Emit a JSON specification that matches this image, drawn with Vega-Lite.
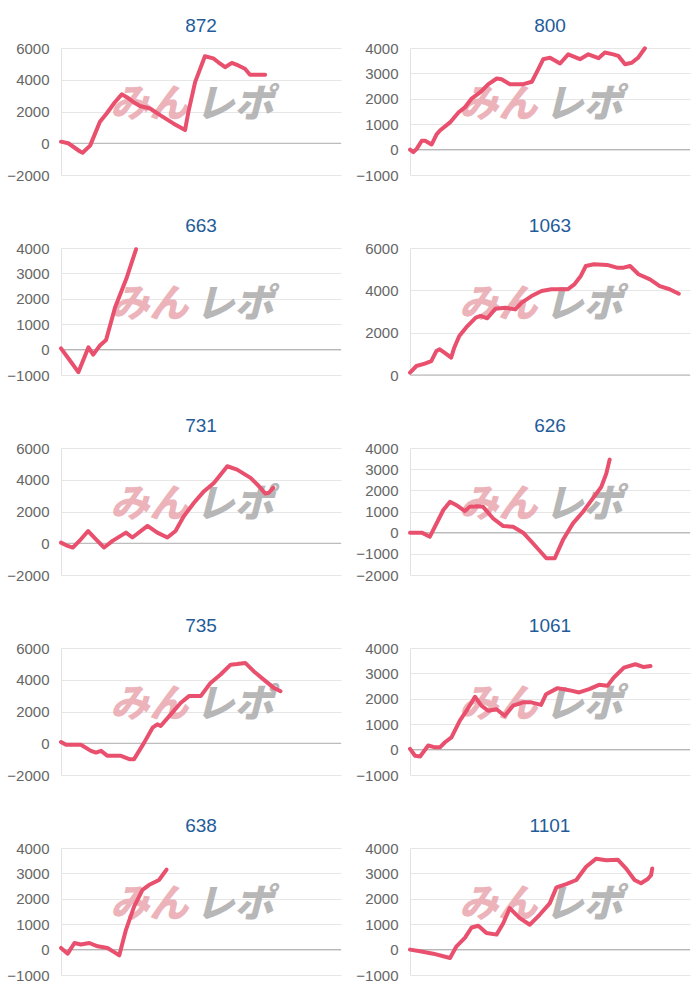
{
  "$schema": "https://vega.github.io/schema/vega-lite/v6.json",
  "padding": {"left": 6, "top": 17, "right": 0, "bottom": 0},
  "background": "white",
  "config": {
    "view": {"stroke": null},
    "font": "Liberation Sans",
    "axisY": {"labelFontSize": 15, "labelColor": "#666666", "labelFont": "Liberation Sans", "gridColor": "#e6e6e6", "domainColor": "#e2e2e2", "ticks": false, "labelPadding": 12, "title": null, "labelOverlap": false, "labelBound": false, "format": "d"},
    "title": {"fontSize": 19, "color": "#1f5c99", "font": "Liberation Sans", "fontWeight": "normal", "frame": "group", "offset": 5}
  },
  "datasets": {
    "series": [
      {"panel": "872", "t": 0, "v": 100}, {"panel": "872", "t": 2.6, "v": 0}, {"panel": "872", "t": 6.8, "v": -520}, {"panel": "872", "t": 7.7, "v": -600}, {"panel": "872", "t": 10.4, "v": -150}, {"panel": "872", "t": 13.9, "v": 1350}, {"panel": "872", "t": 16.3, "v": 1875}, {"panel": "872", "t": 19.3, "v": 2600}, {"panel": "872", "t": 21.7, "v": 3080}, {"panel": "872", "t": 23.5, "v": 2900}, {"panel": "872", "t": 25.8, "v": 2600}, {"panel": "872", "t": 28.2, "v": 2350}, {"panel": "872", "t": 31.8, "v": 2190}, {"panel": "872", "t": 35.4, "v": 1770}, {"panel": "872", "t": 40.1, "v": 1250}, {"panel": "872", "t": 44.3, "v": 830}, {"panel": "872", "t": 45.5, "v": 1980}, {"panel": "872", "t": 47.9, "v": 3850}, {"panel": "872", "t": 51.4, "v": 5480}, {"panel": "872", "t": 54.4, "v": 5350}, {"panel": "872", "t": 56.2, "v": 5100}, {"panel": "872", "t": 58.6, "v": 4790}, {"panel": "872", "t": 61, "v": 5060}, {"panel": "872", "t": 63.3, "v": 4900}, {"panel": "872", "t": 65.7, "v": 4690}, {"panel": "872", "t": 67.5, "v": 4310}, {"panel": "872", "t": 72.9, "v": 4310},
      {"panel": "800", "t": 0, "v": 0}, {"panel": "800", "t": 1.2, "v": -100}, {"panel": "800", "t": 2.4, "v": 30}, {"panel": "800", "t": 4.2, "v": 350}, {"panel": "800", "t": 5.4, "v": 350}, {"panel": "800", "t": 7.7, "v": 200}, {"panel": "800", "t": 9.5, "v": 600}, {"panel": "800", "t": 10.7, "v": 750}, {"panel": "800", "t": 14.3, "v": 1070}, {"panel": "800", "t": 17.3, "v": 1460}, {"panel": "800", "t": 19.6, "v": 1660}, {"panel": "800", "t": 22, "v": 2010}, {"panel": "800", "t": 25, "v": 2250}, {"panel": "800", "t": 28, "v": 2575}, {"panel": "800", "t": 31, "v": 2800}, {"panel": "800", "t": 32.7, "v": 2770}, {"panel": "800", "t": 35.7, "v": 2575}, {"panel": "800", "t": 40.5, "v": 2575}, {"panel": "800", "t": 43.5, "v": 2670}, {"panel": "800", "t": 45.2, "v": 3030}, {"panel": "800", "t": 47.6, "v": 3560}, {"panel": "800", "t": 50, "v": 3620}, {"panel": "800", "t": 53.6, "v": 3390}, {"panel": "800", "t": 56.5, "v": 3750}, {"panel": "800", "t": 60.7, "v": 3560}, {"panel": "800", "t": 63.7, "v": 3750}, {"panel": "800", "t": 67.3, "v": 3600}, {"panel": "800", "t": 69.6, "v": 3820}, {"panel": "800", "t": 72.6, "v": 3750}, {"panel": "800", "t": 74.4, "v": 3690}, {"panel": "800", "t": 76.8, "v": 3360}, {"panel": "800", "t": 79.2, "v": 3420}, {"panel": "800", "t": 81.5, "v": 3620}, {"panel": "800", "t": 83.9, "v": 3990},
      {"panel": "663", "t": 0, "v": 50}, {"panel": "663", "t": 3.2, "v": -430}, {"panel": "663", "t": 6.2, "v": -890}, {"panel": "663", "t": 9.8, "v": 90}, {"panel": "663", "t": 11.5, "v": -200}, {"panel": "663", "t": 13.9, "v": 160}, {"panel": "663", "t": 16.1, "v": 380}, {"panel": "663", "t": 19.3, "v": 1660}, {"panel": "663", "t": 23.5, "v": 2840}, {"panel": "663", "t": 26.8, "v": 3950},
      {"panel": "1063", "t": 0, "v": 110}, {"panel": "1063", "t": 2.3, "v": 425}, {"panel": "1063", "t": 5.3, "v": 535}, {"panel": "1063", "t": 7.6, "v": 660}, {"panel": "1063", "t": 9.4, "v": 1130}, {"panel": "1063", "t": 10.6, "v": 1210}, {"panel": "1063", "t": 12.3, "v": 1055}, {"panel": "1063", "t": 14.7, "v": 820}, {"panel": "1063", "t": 15.8, "v": 1290}, {"panel": "1063", "t": 17.6, "v": 1840}, {"panel": "1063", "t": 20.5, "v": 2310}, {"panel": "1063", "t": 23.5, "v": 2710}, {"panel": "1063", "t": 25.2, "v": 2790}, {"panel": "1063", "t": 27.6, "v": 2680}, {"panel": "1063", "t": 30.5, "v": 3130}, {"panel": "1063", "t": 34, "v": 3180}, {"panel": "1063", "t": 37.6, "v": 3100}, {"panel": "1063", "t": 39.9, "v": 3420}, {"panel": "1063", "t": 43.4, "v": 3730}, {"panel": "1063", "t": 47, "v": 3970}, {"panel": "1063", "t": 50.5, "v": 4050}, {"panel": "1063", "t": 56.3, "v": 4050}, {"panel": "1063", "t": 58.7, "v": 4280}, {"panel": "1063", "t": 61, "v": 4680}, {"panel": "1063", "t": 62.8, "v": 5150}, {"panel": "1063", "t": 65.7, "v": 5230}, {"panel": "1063", "t": 70.4, "v": 5200}, {"panel": "1063", "t": 73.9, "v": 5070}, {"panel": "1063", "t": 76.3, "v": 5070}, {"panel": "1063", "t": 78.6, "v": 5150}, {"panel": "1063", "t": 81.6, "v": 4760}, {"panel": "1063", "t": 85.7, "v": 4520}, {"panel": "1063", "t": 89.2, "v": 4200}, {"panel": "1063", "t": 92.7, "v": 4050}, {"panel": "1063", "t": 96, "v": 3840},
      {"panel": "731", "t": 0, "v": 40}, {"panel": "731", "t": 2.4, "v": -170}, {"panel": "731", "t": 4.2, "v": -270}, {"panel": "731", "t": 7.1, "v": 250}, {"panel": "731", "t": 9.7, "v": 770}, {"panel": "731", "t": 12.5, "v": 250}, {"panel": "731", "t": 15.4, "v": -270}, {"panel": "731", "t": 18.4, "v": 150}, {"panel": "731", "t": 23.2, "v": 670}, {"panel": "731", "t": 25.5, "v": 360}, {"panel": "731", "t": 30.9, "v": 1090}, {"panel": "731", "t": 34.4, "v": 670}, {"panel": "731", "t": 38, "v": 360}, {"panel": "731", "t": 40.9, "v": 770}, {"panel": "731", "t": 43.9, "v": 1710}, {"panel": "731", "t": 47.5, "v": 2550}, {"panel": "731", "t": 51.1, "v": 3280}, {"panel": "731", "t": 54.6, "v": 3800}, {"panel": "731", "t": 59.4, "v": 4850}, {"panel": "731", "t": 62.9, "v": 4640}, {"panel": "731", "t": 67.7, "v": 4120}, {"panel": "731", "t": 70.7, "v": 3590}, {"panel": "731", "t": 73, "v": 3130}, {"panel": "731", "t": 74.2, "v": 3180}, {"panel": "731", "t": 75.8, "v": 3490},
      {"panel": "626", "t": 0, "v": 0}, {"panel": "626", "t": 4.2, "v": 0}, {"panel": "626", "t": 7.1, "v": -190}, {"panel": "626", "t": 11.9, "v": 1070}, {"panel": "626", "t": 14.3, "v": 1460}, {"panel": "626", "t": 16.6, "v": 1300}, {"panel": "626", "t": 19.6, "v": 1020}, {"panel": "626", "t": 21.4, "v": 1220}, {"panel": "626", "t": 24.2, "v": 1250}, {"panel": "626", "t": 26.1, "v": 1220}, {"panel": "626", "t": 29.7, "v": 670}, {"panel": "626", "t": 33.3, "v": 310}, {"panel": "626", "t": 36.8, "v": 280}, {"panel": "626", "t": 40.4, "v": 0}, {"panel": "626", "t": 43.9, "v": -500}, {"panel": "626", "t": 48.7, "v": -1210}, {"panel": "626", "t": 51.7, "v": -1210}, {"panel": "626", "t": 54.6, "v": -350}, {"panel": "626", "t": 58.2, "v": 440}, {"panel": "626", "t": 61.8, "v": 990}, {"panel": "626", "t": 65.3, "v": 1620}, {"panel": "626", "t": 68.3, "v": 2160}, {"panel": "626", "t": 70.1, "v": 2790}, {"panel": "626", "t": 71.3, "v": 3450},
      {"panel": "735", "t": 0, "v": 80}, {"panel": "735", "t": 1.8, "v": -100}, {"panel": "735", "t": 7.1, "v": -100}, {"panel": "735", "t": 10.7, "v": -480}, {"panel": "735", "t": 12.5, "v": -590}, {"panel": "735", "t": 14.3, "v": -480}, {"panel": "735", "t": 16.6, "v": -790}, {"panel": "735", "t": 21.4, "v": -790}, {"panel": "735", "t": 24.4, "v": -1000}, {"panel": "735", "t": 26.1, "v": -1000}, {"panel": "735", "t": 29.7, "v": 40}, {"panel": "735", "t": 32.7, "v": 980}, {"panel": "735", "t": 34.4, "v": 1190}, {"panel": "735", "t": 35.6, "v": 1090}, {"panel": "735", "t": 39.2, "v": 1820}, {"panel": "735", "t": 42.8, "v": 2550}, {"panel": "735", "t": 45.7, "v": 2970}, {"panel": "735", "t": 49.9, "v": 2970}, {"panel": "735", "t": 53.4, "v": 3800}, {"panel": "735", "t": 57, "v": 4330}, {"panel": "735", "t": 60.6, "v": 4950}, {"panel": "735", "t": 62.9, "v": 4990}, {"panel": "735", "t": 65.8, "v": 5060}, {"panel": "735", "t": 68.8, "v": 4540}, {"panel": "735", "t": 72.4, "v": 4010}, {"panel": "735", "t": 76, "v": 3490}, {"panel": "735", "t": 78.4, "v": 3280},
      {"panel": "1061", "t": 0, "v": 30}, {"panel": "1061", "t": 1.8, "v": -240}, {"panel": "1061", "t": 3.6, "v": -270}, {"panel": "1061", "t": 6.5, "v": 160}, {"panel": "1061", "t": 8.9, "v": 90}, {"panel": "1061", "t": 10.7, "v": 90}, {"panel": "1061", "t": 12.5, "v": 290}, {"panel": "1061", "t": 14.8, "v": 480}, {"panel": "1061", "t": 17.8, "v": 1140}, {"panel": "1061", "t": 20.2, "v": 1530}, {"panel": "1061", "t": 23.2, "v": 2080}, {"panel": "1061", "t": 25.5, "v": 1730}, {"panel": "1061", "t": 27.9, "v": 1530}, {"panel": "1061", "t": 30.9, "v": 1590}, {"panel": "1061", "t": 33.8, "v": 1330}, {"panel": "1061", "t": 36.8, "v": 1730}, {"panel": "1061", "t": 40.4, "v": 1860}, {"panel": "1061", "t": 43.3, "v": 1860}, {"panel": "1061", "t": 46.8, "v": 1760}, {"panel": "1061", "t": 48.6, "v": 2180}, {"panel": "1061", "t": 52.7, "v": 2420}, {"panel": "1061", "t": 56.8, "v": 2340}, {"panel": "1061", "t": 60.4, "v": 2250}, {"panel": "1061", "t": 64, "v": 2380}, {"panel": "1061", "t": 67.5, "v": 2550}, {"panel": "1061", "t": 70.5, "v": 2510}, {"panel": "1061", "t": 72.8, "v": 2840}, {"panel": "1061", "t": 76.4, "v": 3230}, {"panel": "1061", "t": 80.5, "v": 3360}, {"panel": "1061", "t": 83.5, "v": 3250}, {"panel": "1061", "t": 85.9, "v": 3290},
      {"panel": "638", "t": 0, "v": 65}, {"panel": "638", "t": 2.4, "v": -160}, {"panel": "638", "t": 4.8, "v": 260}, {"panel": "638", "t": 7.1, "v": 200}, {"panel": "638", "t": 10.1, "v": 260}, {"panel": "638", "t": 13.1, "v": 130}, {"panel": "638", "t": 16.6, "v": 65}, {"panel": "638", "t": 19, "v": -100}, {"panel": "638", "t": 20.8, "v": -230}, {"panel": "638", "t": 23.2, "v": 780}, {"panel": "638", "t": 26.1, "v": 1690}, {"panel": "638", "t": 29.1, "v": 2350}, {"panel": "638", "t": 31.4, "v": 2540}, {"panel": "638", "t": 35, "v": 2740}, {"panel": "638", "t": 37.7, "v": 3150},
      {"panel": "1101", "t": 0, "v": 0}, {"panel": "1101", "t": 3.6, "v": -65}, {"panel": "1101", "t": 8.3, "v": -160}, {"panel": "1101", "t": 11.9, "v": -260}, {"panel": "1101", "t": 14.3, "v": -330}, {"panel": "1101", "t": 16.6, "v": 130}, {"panel": "1101", "t": 19.6, "v": 460}, {"panel": "1101", "t": 22, "v": 870}, {"panel": "1101", "t": 24.4, "v": 940}, {"panel": "1101", "t": 27.3, "v": 650}, {"panel": "1101", "t": 30.9, "v": 590}, {"panel": "1101", "t": 33.3, "v": 1040}, {"panel": "1101", "t": 35.6, "v": 1630}, {"panel": "1101", "t": 39.2, "v": 1240}, {"panel": "1101", "t": 42.8, "v": 980}, {"panel": "1101", "t": 46.3, "v": 1370}, {"panel": "1101", "t": 49.9, "v": 1820}, {"panel": "1101", "t": 52.3, "v": 2450}, {"panel": "1101", "t": 55.8, "v": 2580}, {"panel": "1101", "t": 59.4, "v": 2740}, {"panel": "1101", "t": 62.9, "v": 3260}, {"panel": "1101", "t": 66.5, "v": 3580}, {"panel": "1101", "t": 70.1, "v": 3520}, {"panel": "1101", "t": 74.2, "v": 3540}, {"panel": "1101", "t": 77.2, "v": 3190}, {"panel": "1101", "t": 80.2, "v": 2740}, {"panel": "1101", "t": 82.5, "v": 2610}, {"panel": "1101", "t": 84.9, "v": 2780}, {"panel": "1101", "t": 86.1, "v": 2930}, {"panel": "1101", "t": 86.5, "v": 3190}
    ],
    "wm": [
      {"panel": "872", "t": 31.5, "v": 2400, "text": "みん", "part": "a"}, {"panel": "872", "t": 62, "v": 2400, "text": "レポ", "part": "b"},
      {"panel": "800", "t": 31.5, "v": 1750, "text": "みん", "part": "a"}, {"panel": "800", "t": 62, "v": 1750, "text": "レポ", "part": "b"},
      {"panel": "663", "t": 31.5, "v": 1750, "text": "みん", "part": "a"}, {"panel": "663", "t": 62, "v": 1750, "text": "レポ", "part": "b"},
      {"panel": "1063", "t": 31.5, "v": 3300, "text": "みん", "part": "a"}, {"panel": "1063", "t": 62, "v": 3300, "text": "レポ", "part": "b"},
      {"panel": "731", "t": 31.5, "v": 2400, "text": "みん", "part": "a"}, {"panel": "731", "t": 62, "v": 2400, "text": "レポ", "part": "b"},
      {"panel": "626", "t": 31.5, "v": 1300, "text": "みん", "part": "a"}, {"panel": "626", "t": 62, "v": 1300, "text": "レポ", "part": "b"},
      {"panel": "735", "t": 31.5, "v": 2400, "text": "みん", "part": "a"}, {"panel": "735", "t": 62, "v": 2400, "text": "レポ", "part": "b"},
      {"panel": "1061", "t": 31.5, "v": 1750, "text": "みん", "part": "a"}, {"panel": "1061", "t": 62, "v": 1750, "text": "レポ", "part": "b"},
      {"panel": "638", "t": 31.5, "v": 1750, "text": "みん", "part": "a"}, {"panel": "638", "t": 62, "v": 1750, "text": "レポ", "part": "b"},
      {"panel": "1101", "t": 31.5, "v": 1750, "text": "みん", "part": "a"}, {"panel": "1101", "t": 62, "v": 1750, "text": "レポ", "part": "b"}
    ]
  },
  "columns": 2,
  "spacing": {"row": 34, "column": 13},
  "concat": [
    {"title": "872", "width": 280, "height": 127, "layer": [
      {"data": {"name": "wm"}, "transform": [{"filter": "datum.panel === '872'"}], "mark": {"type": "text", "font": "Noto Sans CJK JP", "fontSize": 39, "fontWeight": 900, "fontStyle": "italic", "opacity": 0.85}, "encoding": {"x": {"field": "t", "type": "quantitative", "scale": {"domain": [0, 100]}, "axis": null}, "y": {"field": "v", "type": "quantitative", "scale": {"domain": [-2000, 6000], "nice": false}, "axis": {"values": [-2000, 0, 2000, 4000, 6000]}}, "text": {"field": "text"}, "color": {"field": "part", "type": "nominal", "scale": {"domain": ["a", "b"], "range": ["#e9a6ae", "#ababab"]}, "legend": null}}},
      {"data": {"values": [{"z": 0}]}, "mark": {"type": "rule", "color": "#b0b0b0", "strokeWidth": 1}, "encoding": {"y": {"field": "z", "type": "quantitative", "axis": {"values": [-2000, 0, 2000, 4000, 6000]}}}},
      {"data": {"name": "series"}, "transform": [{"filter": "datum.panel === '872'"}], "mark": {"type": "line", "color": "#e8506e", "strokeWidth": 4, "strokeJoin": "round", "strokeCap": "round"}, "encoding": {"x": {"field": "t", "type": "quantitative", "axis": null}, "y": {"field": "v", "type": "quantitative", "axis": {"values": [-2000, 0, 2000, 4000, 6000]}}}}
    ]},
    {"title": "800", "width": 280, "height": 127, "layer": [
      {"data": {"name": "wm"}, "transform": [{"filter": "datum.panel === '800'"}], "mark": {"type": "text", "font": "Noto Sans CJK JP", "fontSize": 39, "fontWeight": 900, "fontStyle": "italic", "opacity": 0.85}, "encoding": {"x": {"field": "t", "type": "quantitative", "scale": {"domain": [0, 100]}, "axis": null}, "y": {"field": "v", "type": "quantitative", "scale": {"domain": [-1000, 4000], "nice": false}, "axis": {"values": [-1000, 0, 1000, 2000, 3000, 4000]}}, "text": {"field": "text"}, "color": {"field": "part", "type": "nominal", "scale": {"domain": ["a", "b"], "range": ["#e9a6ae", "#ababab"]}, "legend": null}}},
      {"data": {"values": [{"z": 0}]}, "mark": {"type": "rule", "color": "#b0b0b0", "strokeWidth": 1}, "encoding": {"y": {"field": "z", "type": "quantitative", "axis": {"values": [-1000, 0, 1000, 2000, 3000, 4000]}}}},
      {"data": {"name": "series"}, "transform": [{"filter": "datum.panel === '800'"}], "mark": {"type": "line", "color": "#e8506e", "strokeWidth": 4, "strokeJoin": "round", "strokeCap": "round"}, "encoding": {"x": {"field": "t", "type": "quantitative", "axis": null}, "y": {"field": "v", "type": "quantitative", "axis": {"values": [-1000, 0, 1000, 2000, 3000, 4000]}}}}
    ]},
    {"title": "663", "width": 280, "height": 127, "layer": [
      {"data": {"name": "wm"}, "transform": [{"filter": "datum.panel === '663'"}], "mark": {"type": "text", "font": "Noto Sans CJK JP", "fontSize": 39, "fontWeight": 900, "fontStyle": "italic", "opacity": 0.85}, "encoding": {"x": {"field": "t", "type": "quantitative", "scale": {"domain": [0, 100]}, "axis": null}, "y": {"field": "v", "type": "quantitative", "scale": {"domain": [-1000, 4000], "nice": false}, "axis": {"values": [-1000, 0, 1000, 2000, 3000, 4000]}}, "text": {"field": "text"}, "color": {"field": "part", "type": "nominal", "scale": {"domain": ["a", "b"], "range": ["#e9a6ae", "#ababab"]}, "legend": null}}},
      {"data": {"values": [{"z": 0}]}, "mark": {"type": "rule", "color": "#b0b0b0", "strokeWidth": 1}, "encoding": {"y": {"field": "z", "type": "quantitative", "axis": {"values": [-1000, 0, 1000, 2000, 3000, 4000]}}}},
      {"data": {"name": "series"}, "transform": [{"filter": "datum.panel === '663'"}], "mark": {"type": "line", "color": "#e8506e", "strokeWidth": 4, "strokeJoin": "round", "strokeCap": "round"}, "encoding": {"x": {"field": "t", "type": "quantitative", "axis": null}, "y": {"field": "v", "type": "quantitative", "axis": {"values": [-1000, 0, 1000, 2000, 3000, 4000]}}}}
    ]},
    {"title": "1063", "width": 280, "height": 127, "layer": [
      {"data": {"name": "wm"}, "transform": [{"filter": "datum.panel === '1063'"}], "mark": {"type": "text", "font": "Noto Sans CJK JP", "fontSize": 39, "fontWeight": 900, "fontStyle": "italic", "opacity": 0.85}, "encoding": {"x": {"field": "t", "type": "quantitative", "scale": {"domain": [0, 100]}, "axis": null}, "y": {"field": "v", "type": "quantitative", "scale": {"domain": [0, 6000], "nice": false}, "axis": {"values": [0, 2000, 4000, 6000]}}, "text": {"field": "text"}, "color": {"field": "part", "type": "nominal", "scale": {"domain": ["a", "b"], "range": ["#e9a6ae", "#ababab"]}, "legend": null}}},
      {"data": {"values": [{"z": 0}]}, "mark": {"type": "rule", "color": "#b0b0b0", "strokeWidth": 1}, "encoding": {"y": {"field": "z", "type": "quantitative", "axis": {"values": [0, 2000, 4000, 6000]}}}},
      {"data": {"name": "series"}, "transform": [{"filter": "datum.panel === '1063'"}], "mark": {"type": "line", "color": "#e8506e", "strokeWidth": 4, "strokeJoin": "round", "strokeCap": "round"}, "encoding": {"x": {"field": "t", "type": "quantitative", "axis": null}, "y": {"field": "v", "type": "quantitative", "axis": {"values": [0, 2000, 4000, 6000]}}}}
    ]},
    {"title": "731", "width": 280, "height": 127, "layer": [
      {"data": {"name": "wm"}, "transform": [{"filter": "datum.panel === '731'"}], "mark": {"type": "text", "font": "Noto Sans CJK JP", "fontSize": 39, "fontWeight": 900, "fontStyle": "italic", "opacity": 0.85}, "encoding": {"x": {"field": "t", "type": "quantitative", "scale": {"domain": [0, 100]}, "axis": null}, "y": {"field": "v", "type": "quantitative", "scale": {"domain": [-2000, 6000], "nice": false}, "axis": {"values": [-2000, 0, 2000, 4000, 6000]}}, "text": {"field": "text"}, "color": {"field": "part", "type": "nominal", "scale": {"domain": ["a", "b"], "range": ["#e9a6ae", "#ababab"]}, "legend": null}}},
      {"data": {"values": [{"z": 0}]}, "mark": {"type": "rule", "color": "#b0b0b0", "strokeWidth": 1}, "encoding": {"y": {"field": "z", "type": "quantitative", "axis": {"values": [-2000, 0, 2000, 4000, 6000]}}}},
      {"data": {"name": "series"}, "transform": [{"filter": "datum.panel === '731'"}], "mark": {"type": "line", "color": "#e8506e", "strokeWidth": 4, "strokeJoin": "round", "strokeCap": "round"}, "encoding": {"x": {"field": "t", "type": "quantitative", "axis": null}, "y": {"field": "v", "type": "quantitative", "axis": {"values": [-2000, 0, 2000, 4000, 6000]}}}}
    ]},
    {"title": "626", "width": 280, "height": 127, "layer": [
      {"data": {"name": "wm"}, "transform": [{"filter": "datum.panel === '626'"}], "mark": {"type": "text", "font": "Noto Sans CJK JP", "fontSize": 39, "fontWeight": 900, "fontStyle": "italic", "opacity": 0.85}, "encoding": {"x": {"field": "t", "type": "quantitative", "scale": {"domain": [0, 100]}, "axis": null}, "y": {"field": "v", "type": "quantitative", "scale": {"domain": [-2000, 4000], "nice": false}, "axis": {"values": [-2000, -1000, 0, 1000, 2000, 3000, 4000]}}, "text": {"field": "text"}, "color": {"field": "part", "type": "nominal", "scale": {"domain": ["a", "b"], "range": ["#e9a6ae", "#ababab"]}, "legend": null}}},
      {"data": {"values": [{"z": 0}]}, "mark": {"type": "rule", "color": "#b0b0b0", "strokeWidth": 1}, "encoding": {"y": {"field": "z", "type": "quantitative", "axis": {"values": [-2000, -1000, 0, 1000, 2000, 3000, 4000]}}}},
      {"data": {"name": "series"}, "transform": [{"filter": "datum.panel === '626'"}], "mark": {"type": "line", "color": "#e8506e", "strokeWidth": 4, "strokeJoin": "round", "strokeCap": "round"}, "encoding": {"x": {"field": "t", "type": "quantitative", "axis": null}, "y": {"field": "v", "type": "quantitative", "axis": {"values": [-2000, -1000, 0, 1000, 2000, 3000, 4000]}}}}
    ]},
    {"title": "735", "width": 280, "height": 127, "layer": [
      {"data": {"name": "wm"}, "transform": [{"filter": "datum.panel === '735'"}], "mark": {"type": "text", "font": "Noto Sans CJK JP", "fontSize": 39, "fontWeight": 900, "fontStyle": "italic", "opacity": 0.85}, "encoding": {"x": {"field": "t", "type": "quantitative", "scale": {"domain": [0, 100]}, "axis": null}, "y": {"field": "v", "type": "quantitative", "scale": {"domain": [-2000, 6000], "nice": false}, "axis": {"values": [-2000, 0, 2000, 4000, 6000]}}, "text": {"field": "text"}, "color": {"field": "part", "type": "nominal", "scale": {"domain": ["a", "b"], "range": ["#e9a6ae", "#ababab"]}, "legend": null}}},
      {"data": {"values": [{"z": 0}]}, "mark": {"type": "rule", "color": "#b0b0b0", "strokeWidth": 1}, "encoding": {"y": {"field": "z", "type": "quantitative", "axis": {"values": [-2000, 0, 2000, 4000, 6000]}}}},
      {"data": {"name": "series"}, "transform": [{"filter": "datum.panel === '735'"}], "mark": {"type": "line", "color": "#e8506e", "strokeWidth": 4, "strokeJoin": "round", "strokeCap": "round"}, "encoding": {"x": {"field": "t", "type": "quantitative", "axis": null}, "y": {"field": "v", "type": "quantitative", "axis": {"values": [-2000, 0, 2000, 4000, 6000]}}}}
    ]},
    {"title": "1061", "width": 280, "height": 127, "layer": [
      {"data": {"name": "wm"}, "transform": [{"filter": "datum.panel === '1061'"}], "mark": {"type": "text", "font": "Noto Sans CJK JP", "fontSize": 39, "fontWeight": 900, "fontStyle": "italic", "opacity": 0.85}, "encoding": {"x": {"field": "t", "type": "quantitative", "scale": {"domain": [0, 100]}, "axis": null}, "y": {"field": "v", "type": "quantitative", "scale": {"domain": [-1000, 4000], "nice": false}, "axis": {"values": [-1000, 0, 1000, 2000, 3000, 4000]}}, "text": {"field": "text"}, "color": {"field": "part", "type": "nominal", "scale": {"domain": ["a", "b"], "range": ["#e9a6ae", "#ababab"]}, "legend": null}}},
      {"data": {"values": [{"z": 0}]}, "mark": {"type": "rule", "color": "#b0b0b0", "strokeWidth": 1}, "encoding": {"y": {"field": "z", "type": "quantitative", "axis": {"values": [-1000, 0, 1000, 2000, 3000, 4000]}}}},
      {"data": {"name": "series"}, "transform": [{"filter": "datum.panel === '1061'"}], "mark": {"type": "line", "color": "#e8506e", "strokeWidth": 4, "strokeJoin": "round", "strokeCap": "round"}, "encoding": {"x": {"field": "t", "type": "quantitative", "axis": null}, "y": {"field": "v", "type": "quantitative", "axis": {"values": [-1000, 0, 1000, 2000, 3000, 4000]}}}}
    ]},
    {"title": "638", "width": 280, "height": 127, "layer": [
      {"data": {"name": "wm"}, "transform": [{"filter": "datum.panel === '638'"}], "mark": {"type": "text", "font": "Noto Sans CJK JP", "fontSize": 39, "fontWeight": 900, "fontStyle": "italic", "opacity": 0.85}, "encoding": {"x": {"field": "t", "type": "quantitative", "scale": {"domain": [0, 100]}, "axis": null}, "y": {"field": "v", "type": "quantitative", "scale": {"domain": [-1000, 4000], "nice": false}, "axis": {"values": [-1000, 0, 1000, 2000, 3000, 4000]}}, "text": {"field": "text"}, "color": {"field": "part", "type": "nominal", "scale": {"domain": ["a", "b"], "range": ["#e9a6ae", "#ababab"]}, "legend": null}}},
      {"data": {"values": [{"z": 0}]}, "mark": {"type": "rule", "color": "#b0b0b0", "strokeWidth": 1}, "encoding": {"y": {"field": "z", "type": "quantitative", "axis": {"values": [-1000, 0, 1000, 2000, 3000, 4000]}}}},
      {"data": {"name": "series"}, "transform": [{"filter": "datum.panel === '638'"}], "mark": {"type": "line", "color": "#e8506e", "strokeWidth": 4, "strokeJoin": "round", "strokeCap": "round"}, "encoding": {"x": {"field": "t", "type": "quantitative", "axis": null}, "y": {"field": "v", "type": "quantitative", "axis": {"values": [-1000, 0, 1000, 2000, 3000, 4000]}}}}
    ]},
    {"title": "1101", "width": 280, "height": 127, "layer": [
      {"data": {"name": "wm"}, "transform": [{"filter": "datum.panel === '1101'"}], "mark": {"type": "text", "font": "Noto Sans CJK JP", "fontSize": 39, "fontWeight": 900, "fontStyle": "italic", "opacity": 0.85}, "encoding": {"x": {"field": "t", "type": "quantitative", "scale": {"domain": [0, 100]}, "axis": null}, "y": {"field": "v", "type": "quantitative", "scale": {"domain": [-1000, 4000], "nice": false}, "axis": {"values": [-1000, 0, 1000, 2000, 3000, 4000]}}, "text": {"field": "text"}, "color": {"field": "part", "type": "nominal", "scale": {"domain": ["a", "b"], "range": ["#e9a6ae", "#ababab"]}, "legend": null}}},
      {"data": {"values": [{"z": 0}]}, "mark": {"type": "rule", "color": "#b0b0b0", "strokeWidth": 1}, "encoding": {"y": {"field": "z", "type": "quantitative", "axis": {"values": [-1000, 0, 1000, 2000, 3000, 4000]}}}},
      {"data": {"name": "series"}, "transform": [{"filter": "datum.panel === '1101'"}], "mark": {"type": "line", "color": "#e8506e", "strokeWidth": 4, "strokeJoin": "round", "strokeCap": "round"}, "encoding": {"x": {"field": "t", "type": "quantitative", "axis": null}, "y": {"field": "v", "type": "quantitative", "axis": {"values": [-1000, 0, 1000, 2000, 3000, 4000]}}}}
    ]}
  ]
}
